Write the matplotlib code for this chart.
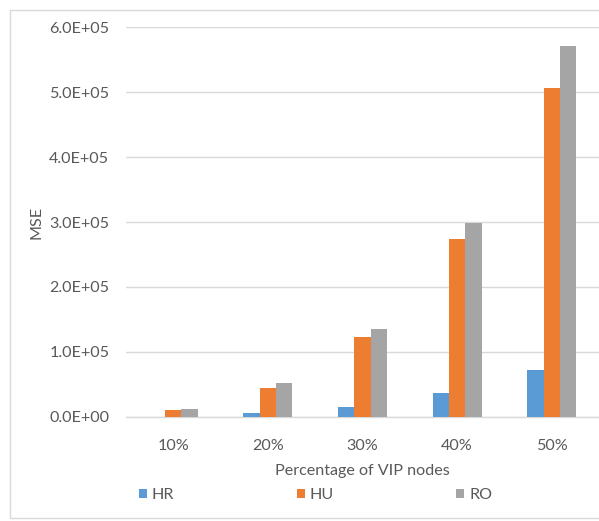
import matplotlib
matplotlib.use("Agg")
import matplotlib.pyplot as plt
from matplotlib.patches import Rectangle
from matplotlib.ticker import FuncFormatter
import numpy as np

categories = ["10%", "20%", "30%", "40%", "50%"]
hr = [300, 6000, 15400, 36500, 72000]
hu = [10000, 44500, 122300, 273300, 506500]
ro = [12000, 52500, 134700, 298000, 571000]
series_names = ["HR", "HU", "RO"]
colors = ["#5B9BD5", "#ED7D31", "#A5A5A5"]

plt.rcParams['font.family'] = ['Lato', 'DejaVu Sans']
text_color = "#595959"
fs = 11.6

fig = plt.figure(figsize=(5.99, 5.21), dpi=100)
fig.patch.set_facecolor("white")
# chart area border
fig.add_artist(Rectangle((10/599, (521-518)/521), 0.99, (518-10)/521,
                         transform=fig.transFigure, fill=False,
                         edgecolor="#D9D9D9", linewidth=1.0))

ax = fig.add_axes([126/599, (521-416.7)/521, (599-126)/599, (416.7-27.3)/521])
x = np.arange(len(categories))
bw = 0.173
handles = []
for i, (vals, name, c) in enumerate(zip([hr, hu, ro], series_names, colors)):
    h = ax.bar(x + (i-1)*bw, vals, width=bw, color=c, label=name, zorder=3)
    handles.append(h)

ax.set_xlim(-0.5, len(categories)-0.5)
ax.set_ylim(0, 6e5)
ax.set_yticks(np.arange(0, 6.01e5, 1e5))
ax.yaxis.set_major_formatter(FuncFormatter(lambda v, p: f"{v:.1E}"))
ax.set_xticks(x)
ax.set_xticklabels(categories)
ax.grid(axis='y', color="#D9D9D9", linewidth=1.0, zorder=0)
for s in ["top", "right", "left"]:
    ax.spines[s].set_visible(False)
ax.spines["bottom"].set_color("#D9D9D9")
ax.spines["bottom"].set_linewidth(1.0)
ax.tick_params(axis='both', length=0, labelsize=fs, labelcolor=text_color)
ax.tick_params(axis='y', pad=12)
ax.tick_params(axis='x', pad=16)
ax.set_xlabel("Percentage of VIP nodes", fontsize=fs, color=text_color, labelpad=8)
ax.set_ylabel("MSE", fontsize=fs, color=text_color, labelpad=4)

fig.legend(handles=handles, labels=series_names, loc="center left",
           bbox_to_anchor=(139/599, (521-495)/521), ncol=3, frameon=False,
           handlelength=0.5, handleheight=0.5, handletextpad=0.3,
           columnspacing=7.6, borderpad=0, borderaxespad=0,
           prop={'size': fs}, labelcolor=text_color)

fig.savefig("out.png", dpi=100, facecolor="white")
